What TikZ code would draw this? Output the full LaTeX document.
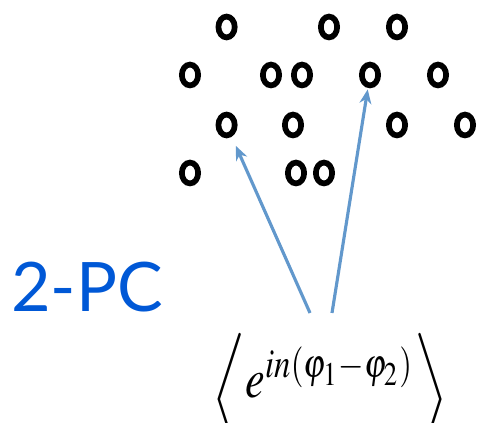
\documentclass[tikz,border=0pt]{standalone}
\usepackage{fontspec}
\usepackage{mathptmx}
\usepackage{graphicx}
\usetikzlibrary{shapes.geometric,arrows.meta}
\newfontfamily\pclabelfont{Lato}
\definecolor{pcblue}{RGB}{0,88,214}
\definecolor{pairblue}{RGB}{98,152,204}
\tikzset{
  particle/.style={ellipse, draw=black, line width=0.2cm, minimum width=0.57cm, minimum height=0.73cm, inner sep=0pt},
  pairarrow/.style={draw=pairblue, line width=0.11cm, -{Stealth[length=0.5cm, width=0.42cm]}},
  pclabel/.style={font=\pclabelfont\fontsize{68}{80}\selectfont, text=pcblue},
}
\newcommand{\lowangle}[1]{\raisebox{-3pt}{$\bigg#1$}}

\begin{document}
\begin{tikzpicture}
\useasboundingbox (0,0) rectangle (16.765,14.805);
% particles
\node[particle] (c11) at (7.930,13.860) {};
\node[particle] (c12) at (11.515,13.860) {};
\node[particle] (c13) at (13.895,13.860) {};
\node[particle] (c21) at (6.650,12.180) {};
\node[particle] (c22) at (9.485,12.180) {};
\node[particle] (c23) at (10.570,12.180) {};
\node[particle] (c24) at (12.950,12.180) {};
\node[particle] (c25) at (15.330,12.180) {};
\node[particle] (c31) at (7.930,10.430) {};
\node[particle] (c32) at (10.255,10.430) {};
\node[particle] (c33) at (13.895,10.430) {};
\node[particle] (c34) at (16.275,10.430) {};
\node[particle] (c41) at (6.650,8.750) {};
\node[particle] (c42) at (10.360,8.750) {};
\node[particle] (c43) at (11.340,8.750) {};
% correlator
\node[inner sep=0pt, anchor=base] (corr) at (11.550,0.900) {\scalebox{4.4}[5.5]{$\lowangle\langle e^{in(\varphi_1-\varphi_2)}\lowangle\rangle$}};
\coordinate (s1) at (10.850,3.850);
\coordinate (s2) at (11.620,3.850);
\draw[pairarrow, shorten >=0.35cm] (s1) -- (c31);
\draw[pairarrow, shorten >=0.05cm] (s2) -- (c24);
% label
\node[pclabel] (pc) at (3.050,4.750) {2-PC};
\end{tikzpicture}
\end{document}
